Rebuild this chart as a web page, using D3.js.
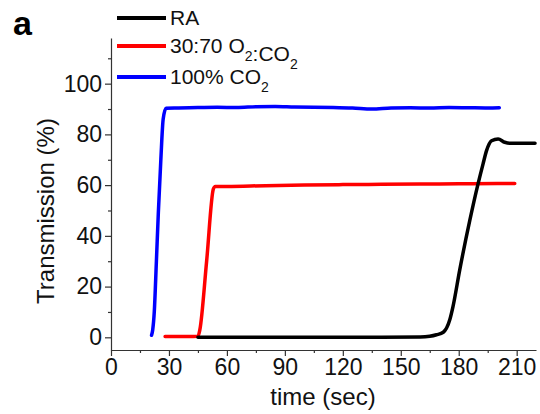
<!DOCTYPE html>
<html>
<head>
<meta charset="utf-8">
<script src="https://cdn.jsdelivr.net/npm/d3@7"></script>
<style>
  body { margin: 0; background: #fff; }
  svg { display: block; font-family: "Liberation Sans", Arial, sans-serif; }
  .line { fill: none; stroke-width: 3.5; stroke-linejoin: round; stroke-linecap: round; }
</style>
</head>
<body>
<script>
// values (time in sec, transmission in %)
var raTime   = [45, 60, 80, 100, 120, 140, 160, 165, 168.5, 172, 175.4, 177, 180.5, 185.7, 190, 192.6, 194.4, 197, 200.4, 203.8, 206.4, 212, 219.5];
var raValue  = [0, 0, 0, 0, 0, 0, 0.1, 0.4, 1, 2, 7, 12, 26.5, 46, 60.5, 68.4, 73.6, 77.5, 78.2, 76.9, 76.5, 76.5, 76.5];

var mixTime  = [28, 35, 40, 45, 46, 49.5, 53, 54, 60, 80, 100, 120, 140, 160, 180, 200, 209];
var mixValue = [0.3, 0.3, 0.3, 0.4, 3, 30, 58.5, 59.5, 59.5, 59.8, 60.0, 60.2, 60.3, 60.4, 60.5, 60.6, 60.6];

var co2Time  = [21, 21.6, 22.4, 23.5, 24.5, 25.8, 27, 28.5, 35, 45, 55, 65, 75, 85, 95, 105, 115, 125, 135, 145, 155, 165, 175, 185, 195, 201];
var co2Value = [0.8, 3, 10, 30, 49, 70, 86, 90.3, 90.4, 90.6, 90.7, 90.6, 90.9, 91.0, 90.8, 90.7, 90.6, 90.4, 90.0, 90.4, 90.5, 90.4, 90.6, 90.5, 90.4, 90.5];

var xTicks = [0, 30, 60, 90, 120, 150, 180, 210];
var xMinor = [15, 45, 75, 105, 135, 165, 195];
var yTicks = [0, 20, 40, 60, 80, 100];
var yMinor = [10, 30, 50, 70, 90, 110];

var seriesNames  = ["RA", "30:70 O2:CO2", "100% CO2"];
var seriesColors = ["#000000", "#ff0000", "#0000ff"];

var width = 540, height = 414;

var svg = d3.select("body").append("svg")
    .attr("width", width)
    .attr("height", height);

var x = d3.scaleLinear().domain([0, 220]).range([111, 536]);
var y = d3.scaleLinear().domain([-5, 118]).range([350, 38]);

function zip(t, v) {
    return t.map(function(d, i) { return {t: d, v: v[i]}; });
}

var series = [zip(raTime, raValue), zip(mixTime, mixValue), zip(co2Time, co2Value)];

var line = d3.line()
    .x(function(d) { return x(d.t); })
    .y(function(d) { return y(d.v); })
    .curve(d3.curveMonotoneX);

// minor ticks
svg.append("g")
    .attr("transform", "translate(0,350)")
    .call(d3.axisBottom(x).tickValues(xMinor).tickSize(3).tickFormat("").tickSizeOuter(0))
    .call(function(g) { g.select(".domain").remove(); });
svg.append("g")
    .attr("transform", "translate(111,0)")
    .call(d3.axisLeft(y).tickValues(yMinor).tickSize(3).tickFormat("").tickSizeOuter(0))
    .call(function(g) { g.select(".domain").remove(); });

// main axes
var xAxis = svg.append("g")
    .attr("transform", "translate(0,350)")
    .call(d3.axisBottom(x).tickValues(xTicks).tickSize(6).tickSizeOuter(0).tickPadding(3));
var yAxis = svg.append("g")
    .attr("transform", "translate(111,0)")
    .call(d3.axisLeft(y).tickValues(yTicks).tickSize(6).tickSizeOuter(0).tickPadding(3));

[xAxis, yAxis].forEach(function(g) {
    g.selectAll("text").style("font-size", "23px").attr("fill", "#111")
        .style("font-family", "'Liberation Sans', Arial, sans-serif");
});

svg.selectAll("g line, g path.domain").attr("stroke", "#333").attr("stroke-width", 1.2);

// data lines (blue first so black sits on top like the original)
[2, 1, 0].forEach(function(i) {
    svg.append("path")
        .datum(series[i])
        .attr("class", "line")
        .attr("stroke", seriesColors[i])
        .attr("d", line);
});

// axis titles
svg.append("text")
    .attr("x", 323).attr("y", 405)
    .attr("text-anchor", "middle")
    .attr("fill", "#111")
    .style("font-size", "24px")
    .text("time (sec)");

svg.append("text")
    .attr("transform", "translate(54,211) rotate(-90)")
    .attr("text-anchor", "middle")
    .attr("fill", "#111")
    .style("font-size", "24px")
    .text("Transmission (%)");

// panel letter
svg.append("text")
    .attr("x", 13).attr("y", 35)
    .style("font-size", "34px").style("font-weight", "bold")
    .text("a");

// legend
var legendY = [18, 46, 77];
var lg = svg.append("g");
seriesNames.forEach(function(name, i) {
    lg.append("line")
        .attr("x1", 117).attr("x2", 166)
        .attr("y1", legendY[i]).attr("y2", legendY[i])
        .attr("stroke", seriesColors[i]).attr("stroke-width", 4);
    var t = lg.append("text")
        .attr("x", 170).attr("y", legendY[i] + 7)
        .attr("fill", "#111")
        .style("font-size", "21px");
    // split on "2" after O / CO to make subscripts
    var parts = name.split(/(O2|CO2)/).filter(function(s) { return s.length; });
    parts.forEach(function(p) {
        if (p === "O2" || p === "CO2") {
            t.append("tspan").text(p.slice(0, -1));
            t.append("tspan").attr("dy", 8).style("font-size", "14px").text("2");
            t.append("tspan").attr("dy", -8).text("");
        } else {
            t.append("tspan").text(p);
        }
    });
});
</script>
</body>
</html>
